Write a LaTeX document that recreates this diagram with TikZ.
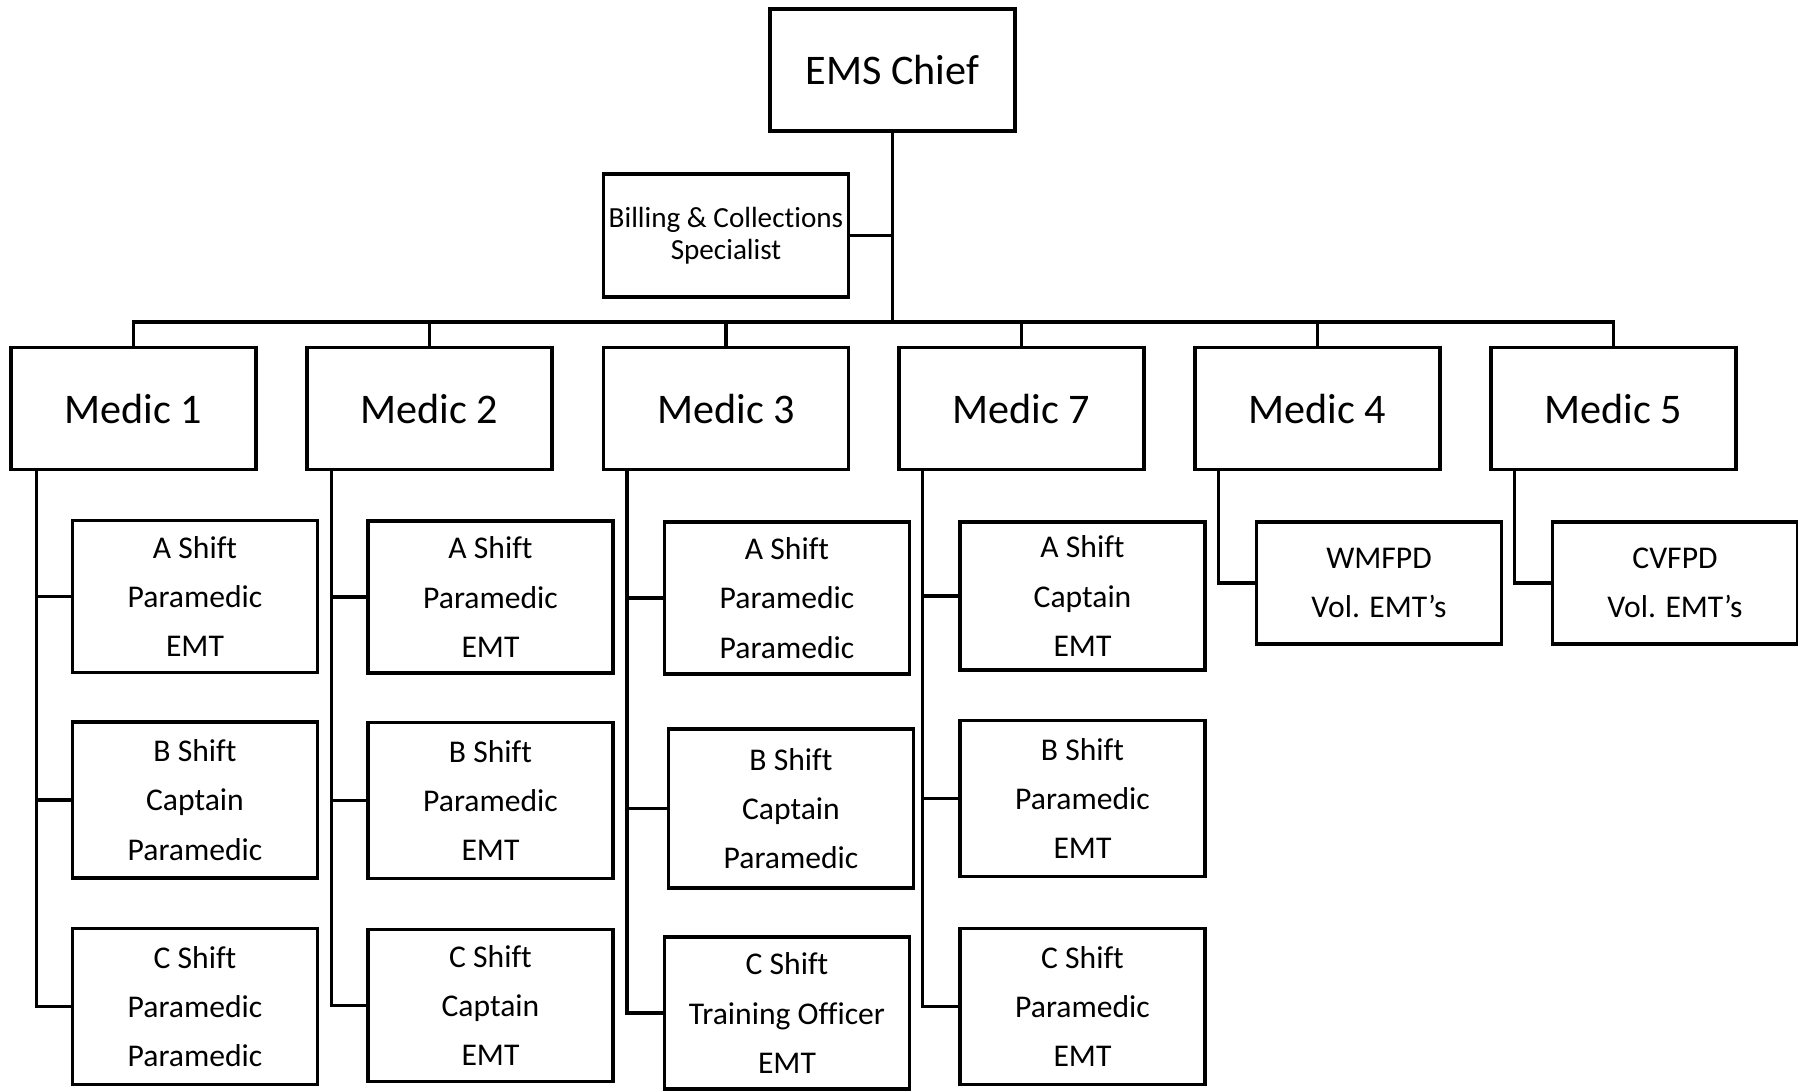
\documentclass[tikz,border=0pt]{standalone}
\usepackage{fontspec}
\setmainfont[Ligatures=NoCommon]{Carlito}
\usepackage{tikz}
\usetikzlibrary{positioning}

\tikzset{
  box/.style={draw, line width=0.9pt, minimum width=2.45cm, align=center, inner sep=0pt},
  big/.style={box, minimum height=1.22cm, font=\fontsize{12}{14}\selectfont},
  crew/.style={box, minimum height=1.52cm, font=\fontsize{9}{14}\selectfont},
  link/.style={line width=0.9pt}
}

\begin{document}
\begin{tikzpicture}
   \useasboundingbox (0,0) rectangle (17.98,-10.90);

   % top
   \node[big] (chief) at (8.925,-0.70) {EMS Chief};
   \node[box, minimum height=1.23cm, font=\fontsize{8.3}{9.2}\selectfont] (bill) at (7.26,-2.355) {Billing \& Collections\\Specialist};
   \coordinate (bus) at (8.925,-3.22);

   % medic units
   \node[big] (m1) at (1.335,-4.085) {Medic 1};
   \node[big] (m2) at (4.295,-4.085) {Medic 2};
   \node[big] (m3) at (7.26,-4.085) {Medic 3};
   \node[big] (m7) at (10.215,-4.085) {Medic 7};
   \node[big] (m4) at (13.175,-4.085) {Medic 4};
   \node[big] (m5) at (16.135,-4.085) {Medic 5};

   % shifts
   \node[crew] (m1a) at (1.95,-5.965) {A Shift\\Paramedic\\EMT};
   \node[crew, minimum height=1.56cm] (m1b) at (1.95,-8.00) {B Shift\\Captain\\Paramedic};
   \node[crew, minimum height=1.56cm] (m1c) at (1.95,-10.065) {C Shift\\Paramedic\\Paramedic};

   \node[crew] (m2a) at (4.905,-5.97) {A Shift\\Paramedic\\EMT};
   \node[crew, minimum height=1.56cm] (m2b) at (4.905,-8.005) {B Shift\\Paramedic\\EMT};
   \node[crew] (m2c) at (4.905,-10.055) {C Shift\\Captain\\EMT};

   \node[crew] (m3a) at (7.87,-5.98) {A Shift\\Paramedic\\Paramedic};
   \node[crew, minimum height=1.59cm] (m3b) at (7.91,-8.085) {B Shift\\Captain\\Paramedic};
   \node[crew] (m3c) at (7.87,-10.13) {C Shift\\Training Officer\\EMT};

   \node[crew, minimum height=1.48cm] (m7a) at (10.825,-5.96) {A Shift\\Captain\\EMT};
   \node[crew, minimum height=1.56cm] (m7b) at (10.825,-7.985) {B Shift\\Paramedic\\EMT};
   \node[crew, minimum height=1.56cm] (m7c) at (10.825,-10.065) {C Shift\\Paramedic\\EMT};

   \node[crew, minimum height=1.22cm] (m4a) at (13.79,-5.83) {WMFPD\\Vol. EMT’s};
   \node[crew, minimum height=1.22cm] (m5a) at (16.75,-5.83) {CVFPD\\Vol. EMT’s};

   % chief and bus
   \draw[link] (chief.south) -- (bus);
   \draw[link] (bill.east) -- (bill.east -| chief.south);
   \draw[link] (m1.north) -- (m1.north |- bus) -- (m5.north |- bus) -- (m5.north);
   \draw[link] (m2.north) -- (m2.north |- bus);
   \draw[link] (m3.north) -- (m3.north |- bus);
   \draw[link] (m7.north) -- (m7.north |- bus);
   \draw[link] (m4.north) -- (m4.north |- bus);

   % unit to shifts
   \coordinate (t1) at ([xshift=0.27cm]m1.south west);
   \coordinate (t2) at ([xshift=0.26cm]m2.south west);
   \coordinate (t3) at ([xshift=0.25cm]m3.south west);
   \coordinate (t7) at ([xshift=0.25cm]m7.south west);
   \coordinate (t4) at ([xshift=0.25cm]m4.south west);
   \coordinate (t5) at ([xshift=0.25cm]m5.south west);

   \draw[link] (t1) |- (m1c.west);
   \draw[link] (t1 |- m1a.west) -- (m1a.west);
   \draw[link] (t1 |- m1b.west) -- (m1b.west);
   \draw[link] (t2) |- (m2c.west);
   \draw[link] (t2 |- m2a.west) -- (m2a.west);
   \draw[link] (t2 |- m2b.west) -- (m2b.west);
   \draw[link] (t3) |- (m3c.west);
   \draw[link] (t3 |- m3a.west) -- (m3a.west);
   \draw[link] (t3 |- m3b.west) -- (m3b.west);
   \draw[link] (t7) |- (m7c.west);
   \draw[link] (t7 |- m7a.west) -- (m7a.west);
   \draw[link] (t7 |- m7b.west) -- (m7b.west);
   \draw[link] (t4) |- (m4a.west);
   \draw[link] (t5) |- (m5a.west);
\end{tikzpicture}
\end{document}
